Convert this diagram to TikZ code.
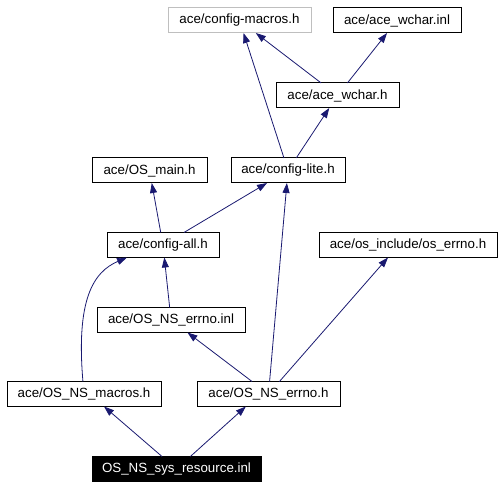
\documentclass[tikz,border=0pt]{standalone}
\usepackage{fontspec}
\setmainfont{Liberation Sans}
\usetikzlibrary{positioning,arrows.meta}
\definecolor{edgeblue}{HTML}{191970}
\definecolor{ghostgray}{HTML}{BFBFBF}

\begin{document}
\begin{tikzpicture}
  [
      x=0.75pt, y=-0.75pt,
      file/.style={rectangle, draw, line width=0.75pt, outer sep=0pt, minimum height=18.75pt, minimum width=#1, inner sep=0pt, font=\fontsize{10pt}{12pt}\selectfont},
      dep/.style={->, >={Triangle[length=7.5pt,width=5.25pt]}, draw=edgeblue, line width=0.6pt},
    ]
    \useasboundingbox (0,0) rectangle (504,488);

    \node (macros) [file=107.25pt, draw=ghostgray] at (239.5,20.5) {ace/config-macros.h};
    \node (wcharinl) [right=16.5pt of macros, file=96pt] {ace/ace\_wchar.inl};
    \node (wcharh) [file=92.25pt] at (337.5,95.5) {ace/ace\_wchar.h};

    \node (osmain) [file=86.25pt] at (149.5,170.5) {ace/OS\_main.h};
    \node (lite) [right=18pt of osmain, file=85.5pt] {ace/config-lite.h};

    \node (all) [file=84pt] at (163,245) {ace/config-all.h};
    \node (oserrno) [file=133.5pt] at (408,245) {ace/os\_include/os\_errno.h};
    \node (errnoinl) [file=111pt] at (171,320) {ace/OS\_NS\_errno.inl};

    \node (nsmacros) [file=115.5pt] at (84,394) {ace/OS\_NS\_macros.h};
    \node (errnoh) [right=27pt of nsmacros, file=107.25pt] {ace/OS\_NS\_errno.h};

    \node (sysres) [file=126.75pt, fill=black, text=white] at (176.5,469) {OS\_NS\_sys\_resource.inl};

    \draw [dep] (lite) -- (macros);
    \draw [dep] (wcharh) -- (macros);
    \draw [dep] (wcharh) -- (wcharinl);
    \draw [dep] (lite) -- (wcharh);
    \draw [dep] (all) -- (osmain);
    \draw [dep] (all) -- (lite);
    \draw [dep] (errnoh) -- (lite);
    \draw [dep] (errnoh) -- ([xshift=-15pt]oserrno.south);
    \draw [dep] (errnoinl) -- (all);
    \draw [dep] (nsmacros) .. controls (76,300) and (93,272) .. ([xshift=-27pt]all.south);
    \draw [dep] (errnoh) -- (errnoinl);
    \draw [dep] (sysres) -- ([xshift=15pt]nsmacros.south);
    \draw [dep] (sysres) -- ([xshift=-17pt]errnoh.south);

  \end{tikzpicture}
\end{document}
